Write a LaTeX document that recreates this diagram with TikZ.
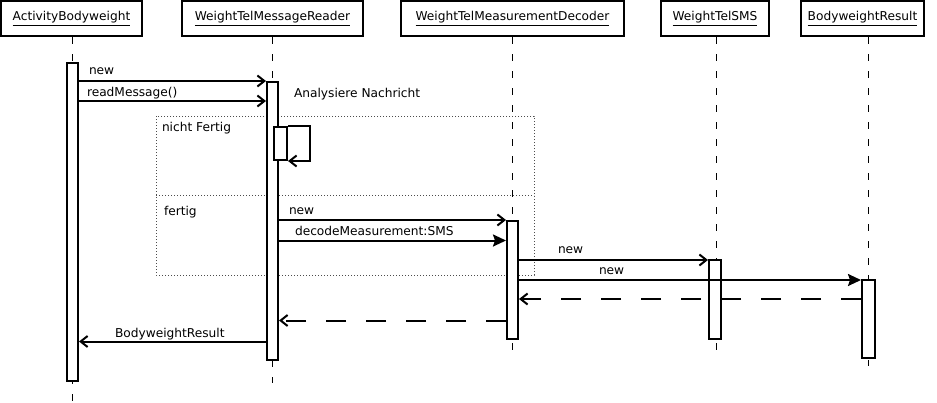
\documentclass[tikz,border=0pt]{standalone}
\usepackage{fontspec}
\setmainfont{DejaVu Sans}
\usetikzlibrary{arrows.meta}

\begin{document}
\begin{tikzpicture}[x=1pt,y=-1pt,line width=2pt,
  font=\fontsize{12.2}{14}\selectfont,
  head/.style={draw,rectangle,inner sep=0pt,line width=2pt},
  act/.style={draw,fill=white,rectangle,inner sep=0pt,line width=2pt},
  life/.style={line width=1pt,dash pattern=on 7pt off 10pt},
  frag/.style={line width=1pt,black!70,dotted},
  msg/.style={-{Straight Barb[length=7pt,width=11pt]},line width=2pt},
  call/.style={-{Stealth[length=13pt,width=12pt,inset=2pt]},line width=2pt},
  ret/.style={msg,dash pattern=on 20pt off 20pt},
  lbl/.style={anchor=base west,inner sep=0pt}]
\useasboundingbox (0,0) rectangle (937,402);
% ================ Kopfzeile: Objekte ================
\node[head,minimum width=141,minimum height=35] (hA) at (71.5,18.5) {\underline{ActivityBodyweight}};
\node[head,minimum width=181,minimum height=35] (hR) at (272.5,18.5) {\underline{WeightTelMessageReader}};
\node[head,minimum width=223,minimum height=35] (hD) at (512.5,18.5) {\underline{WeightTelMeasurementDecoder}};
\node[head,minimum width=108,minimum height=35] (hS) at (715,18.5) {\underline{WeightTelSMS}};
\node[head,minimum width=123,minimum height=35] (hB) at (862.5,18.5) {\underline{BodyweightResult}};
% Lebenslinien
\foreach \n/\x/\e in {A/72/402,R/272/383,D/512/358,S/716/358,B/868/366}{
  \coordinate (end\n) at (\x,\e);
  \draw[life] (h\n.south -| end\n) -- (end\n);
}
% ================ Fragment (nicht Fertig / fertig) ================
\draw[frag] (156,116) rectangle (534,275);
\draw[frag] (156,195) -- (534,195);
\node[lbl] (gNF) at (161,131) {nicht Fertig};
\node[lbl] (gF) at (163,215) {fertig};
% ================ Aktivierungen ================
\node[act,minimum width=11,minimum height=318] (actA) at (72.5,222) {};
\node[act,minimum width=11,minimum height=278] (actR) at (272.5,221) {};
\node[act,minimum width=13,minimum height=33] (actRs) at (280.5,143.5) {};
\node[act,minimum width=11,minimum height=118] (actD) at (512.5,280) {};
\node[act,minimum width=12,minimum height=79] (actS) at (715,299.5) {};
\node[act,minimum width=13,minimum height=78] (actB) at (868.5,319) {};
% ================ Nachrichten ================
\draw[msg] (actA.east |- 0,81) -- (actR.west |- 0,81);
\node[lbl] (mNew1) at (88,74) {new};
\draw[msg] (actA.east |- 0,101) -- (actR.west |- 0,101);
\node[lbl] (mRead) at (86,96) {readMessage()};
\node[lbl] (nAna) at (293,97) {Analysiere Nachricht};
% Selbstaufruf
\draw[msg] (actRs.north east) -- ++(22,0) |- (actRs.south east);
% fertig: Dekodieren
\draw[msg] (actR.east |- 0,220) -- (actD.west |- 0,220);
\node[lbl] (mNew2) at (288,214) {new};
\draw[call] (actR.east |- 0,240.5) -- (actD.west |- 0,240.5);
\node[lbl] (mDec) at (294,235) {decodeMeasurement:SMS};
\draw[msg] (actD.east |- 0,260) -- (actS.west |- 0,260);
\node[lbl] (mNew3) at (557,253) {new};
\draw[call] (actD.east |- 0,280) -- (actB.west |- 0,280);
\node[lbl] (mNew4) at (598,274) {new};
% Rueckgaben
\draw[ret] (actB.west |- 0,299) -- (actD.east |- 0,299);
\draw[ret] (actD.west |- 0,320.5) -- (actR.east |- 0,320.5);
\draw[msg] (actR.west |- 0,341.5) -- (actA.east |- 0,341.5);
\node[lbl] (mRes) at (114,337) {BodyweightResult};
\end{tikzpicture}
\end{document}
